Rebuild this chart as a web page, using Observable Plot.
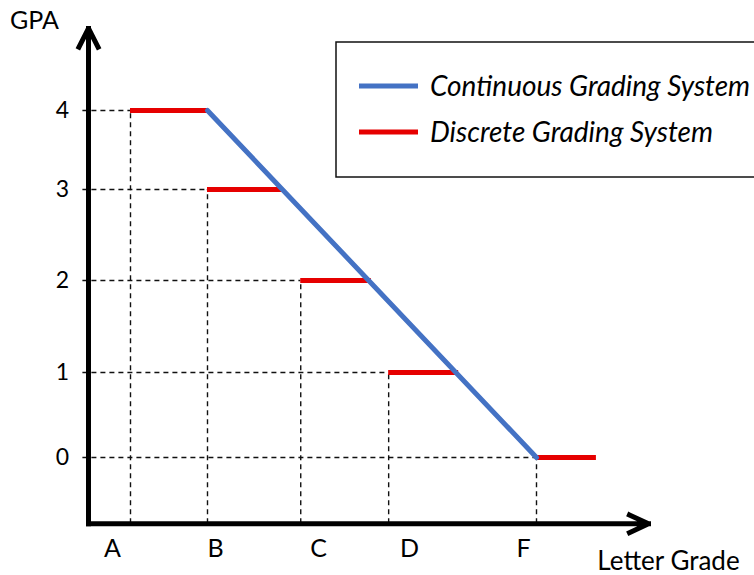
<!DOCTYPE html>
<html>
<head>
<meta charset="utf-8">
<script src="https://cdn.jsdelivr.net/npm/d3@7"></script>
<script src="https://cdn.jsdelivr.net/npm/@observablehq/plot@0.6"></script>
<style>
  html, body { margin: 0; padding: 0; background: #fff; overflow: hidden; }
  #chart { width: 754px; height: 575px; overflow: hidden; position: relative; }
</style>
</head>
<body>
<div id="chart"></div>
<script>
// ---- data (positions along the letter-grade axis are in abstract units 0..10) ----
const letters   = ["A", "B", "C", "D", "F"];
const gpaLevels = [4, 3, 2, 1, 0];                 // discrete GPA for each letter
const gradeX    = [0.75, 2.125, 3.79, 5.36, 8.0];  // where each letter's step starts
const stepEndX  = [2.125, 3.48, 5.05, 6.61, 9.07]; // where each red step ends
const labelX    = [0.43, 2.27, 4.11, 5.73, 7.77];  // letter label positions
const gpaTicks  = [0, 1, 2, 3, 4];
const gpaSpacing = [0, 0.98, 2.04, 3.09, 4];       // drawn (uneven) spacing of the GPA levels
const continuous = [{x: 2.125, gpa: 4}, {x: 8.0, gpa: 0}];
const axisMin = {x: 0, y: -0.78};
const axisMax = {x: 10, y: 5.04};
const legendItems = [
  {label: "Continuous Grading System", color: "#4472C4"},
  {label: "Discrete Grading System",   color: "#E60000"}
];

const steps = letters.map((l, i) => ({letter: l, gpa: gpaLevels[i], x1: gradeX[i], x2: stepEndX[i], lx: labelX[i]}));
const spacing = d3.scaleLinear().domain(gpaTicks).range(gpaSpacing);

const font = "Lato, 'Open Sans', sans-serif";

const chart = Plot.plot({
  width: 754,
  height: 575,
  style: {fontFamily: font, fontSize: "23px", color: "#000", background: "#fff"},
  x: {domain: [0, 10], range: [88, 648], axis: null},
  y: {domain: [0, 4], range: [457, 110], axis: null, transform: spacing},
  marks: [
    // dashed guides
    Plot.ruleY(steps, {y: "gpa", x1: -0.1, x2: "x1", stroke: "#111", strokeWidth: 1.4, strokeDasharray: "5,4"}),
    Plot.ruleX(steps, {x: "x1", y1: axisMin.y, y2: "gpa", stroke: "#111", strokeWidth: 1.4, strokeDasharray: "5,4"}),
    // discrete steps
    Plot.ruleY(steps, {y: "gpa", x1: "x1", x2: "x2", stroke: legendItems[1].color, strokeWidth: 5}),
    // continuous line
    Plot.line(continuous, {x: "x", y: "gpa", stroke: legendItems[0].color, strokeWidth: 5}),
    // axes with arrowheads
    Plot.arrow([0], {x1: axisMin.x, y1: axisMin.y, x2: axisMin.x, y2: axisMax.y, stroke: "#000", strokeWidth: 5, headLength: 6.3, headAngle: 54, strokeLinecap: "square", strokeLinejoin: "miter"}),
    Plot.arrow([0], {x1: axisMin.x, y1: axisMin.y, x2: axisMax.x, y2: axisMin.y, stroke: "#000", strokeWidth: 5, headLength: 6.3, headAngle: 50, strokeLinecap: "square", strokeLinejoin: "miter"}),
    // tick labels
    Plot.text(gpaTicks, {x: axisMin.x, y: d => d, dx: -26, text: d => String(d), fontSize: 23, textAnchor: "middle"}),
    Plot.text(steps, {x: "lx", y: axisMin.y, dy: 25, text: "letter", fontSize: 25, textAnchor: "middle"}),
    // axis titles
    Plot.text(["GPA"], {x: axisMin.x, y: axisMax.y, dx: -54, dy: -7, text: d => d, fontSize: 25, textAnchor: "middle"}),
    Plot.text(["Letter Grade"], {x: axisMax.x, y: axisMin.y, dx: 20, dy: 38, text: d => d, fontSize: 26, textAnchor: "middle"})
  ]
});

// legend box (decoration, drawn on top of the plot's svg)
const svg = d3.select(chart);
const lg = svg.append("g").attr("font-family", font).attr("text-anchor", "start");
lg.append("rect").attr("x", 336).attr("y", 42).attr("width", 440).attr("height", 135)
  .attr("fill", "#fff").attr("stroke", "#111").attr("stroke-width", 1.5);
legendItems.forEach((d, i) => {
  const cy = 86 + i * 46;
  lg.append("line").attr("x1", 359).attr("x2", 418).attr("y1", cy).attr("y2", cy)
    .attr("stroke", d.color).attr("stroke-width", 5);
  lg.append("text").attr("x", 430).attr("y", cy + 10).attr("font-size", 28)
    .attr("font-style", "italic").attr("fill", "#000").attr("text-anchor", "start").text(d.label);
});

document.getElementById("chart").append(chart);
</script>
</body>
</html>
